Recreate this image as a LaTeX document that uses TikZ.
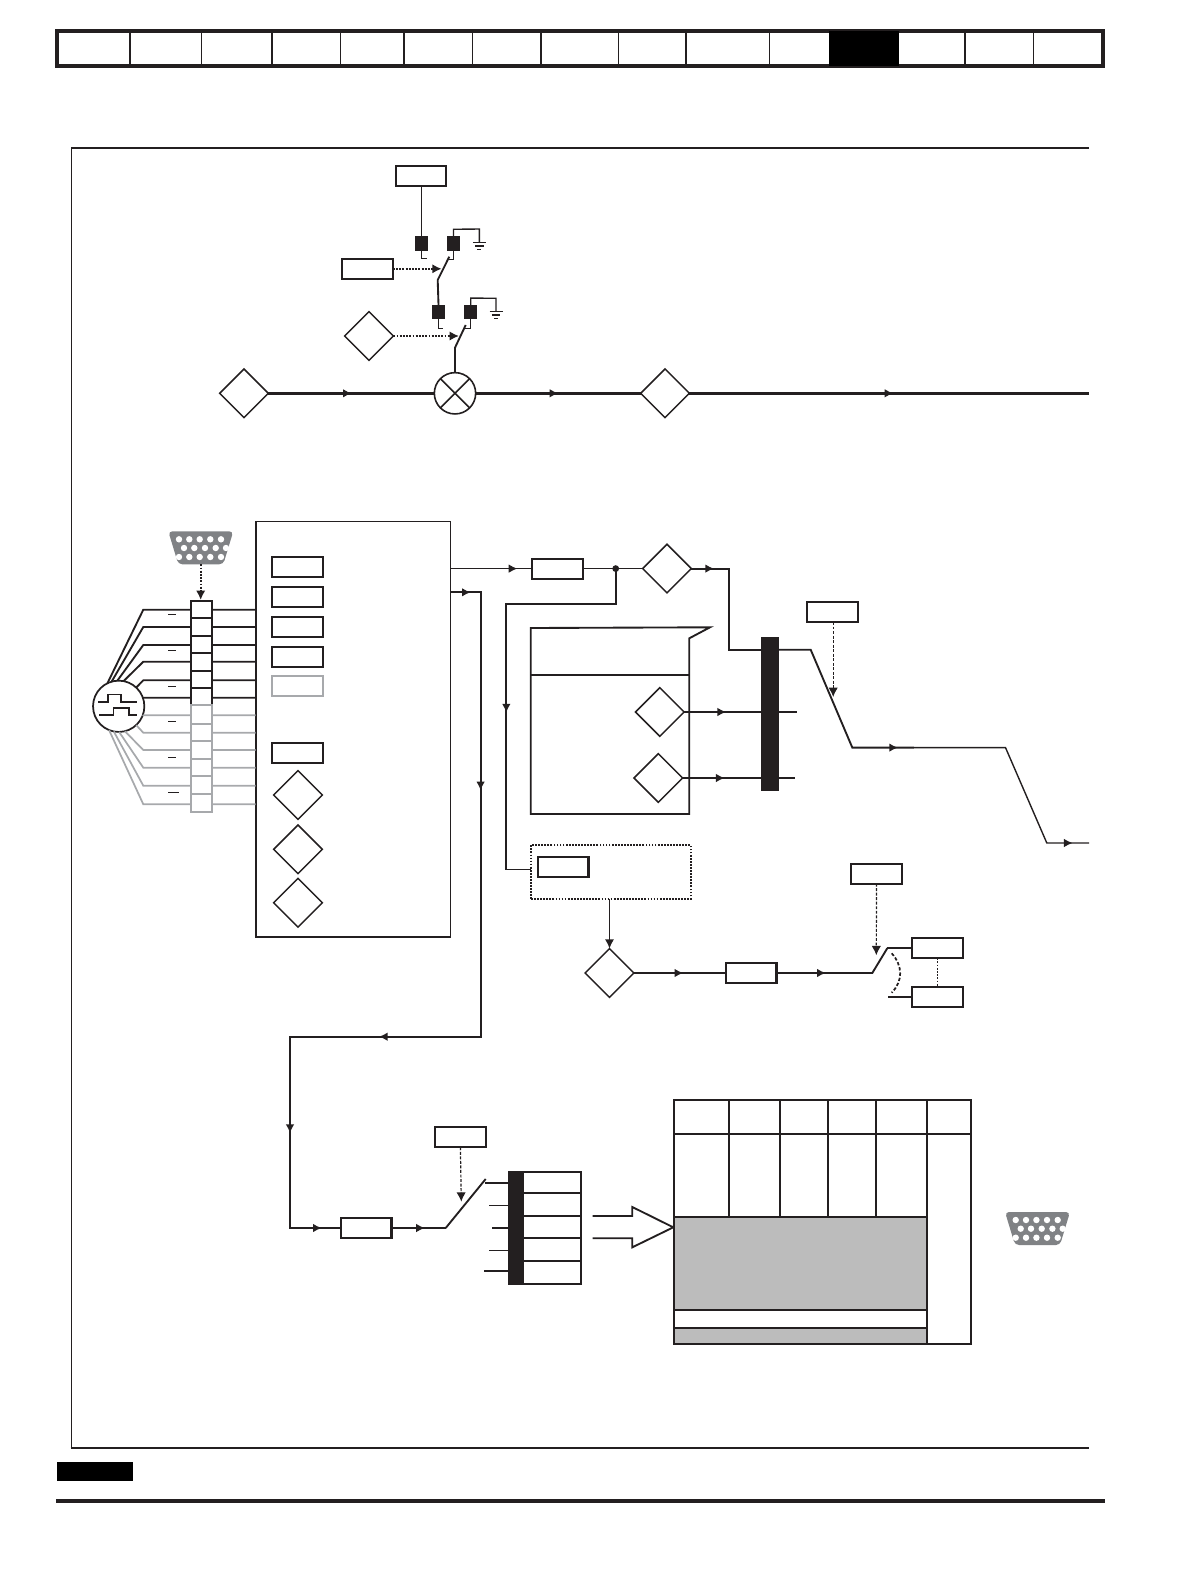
\documentclass[tikz,border=0pt]{standalone}
\usepackage{tikz}
\usetikzlibrary{arrows.meta, decorations.markings, shapes.geometric, positioning}
\definecolor{inkk}{HTML}{231F20}
\definecolor{palegray}{HTML}{A7A9AC}
\definecolor{connfill}{HTML}{808285}
\definecolor{panelgray}{HTML}{BCBCBC}
\tikzset{
  wire/.style={draw=inkk, line width=1.4pt, line join=miter},
  thinwire/.style={draw=inkk, line width=1.05pt},
  graywire/.style={draw=palegray, line width=1.3pt},
  parbox/.style={draw=inkk, fill=white, line width=1.6pt, rectangle, minimum width=38pt,
    minimum height=15pt, inner sep=0pt, outer sep=0pt},
  pardiam/.style={draw=inkk, fill=white, line width=1.1pt, diamond, minimum width=36.5pt,
    minimum height=36.5pt, inner sep=0pt, outer sep=0pt},
  fet/.style={draw=none, fill=inkk, rectangle, minimum width=9.6pt, minimum height=10.8pt,
    inner sep=0pt, outer sep=0pt},
  ctrl/.style={draw=inkk, line width=1.4pt, densely dotted, -{Latex[length=7pt,width=7pt]}},
  fine/.style={draw=inkk, line width=.9pt, dashed, dash pattern=on 2.2pt off 1.2pt, -{Latex[length=7pt,width=7pt]}},
  tipat/.style={postaction={decorate, decoration={markings,
    mark=at position #1 with {\arrow{Latex[length=6.5pt,width=6.5pt]}}}}},
  earth/.pic={
    \draw[thinwire] (-6.5,0) -- (6.5,0) (-4.2,3.3) -- (4.2,3.3) (-2,6.6) -- (2,6.6);
  },
  subd/.pic={
    \fill[connfill, rounded corners=3pt] (0,0) -- (65,0) -- (55,33) -- (10,33) -- cycle;
    \foreach \px in {10.7,21,31.4,42,52.7} {
      \fill[white] (\px,8) circle (3.2);
      \fill[white] (\px,25.7) circle (3.2);
    }
    \foreach \px in {15.7,26,36.7,47.4,57.7} {
      \fill[white] (\px,16.7) circle (3.2);
    }
  }
}
\begin{document}
\begin{tikzpicture}[x=.75pt,y=-.75pt,>={Latex[length=7pt,width=7pt]}]
  \useasboundingbox (0,0) rectangle (1190,1580);

  \draw[inkk, line width=3pt] (57.4,31) rectangle (1103,66.5);
  \fill[black] (829,31) rectangle (898.7,66.5);
  \foreach \xx in {130,201.5,272,340.5,404,472.5,541,618.6,686,769.7,965,1033.7} {
    \draw[inkk, line width=1pt] (\xx,31) -- (\xx,66.5);
  }
  \draw[inkk, line width=1.4pt] (1089,148) -- (71.5,148) -- (71.5,1448);
  \draw[inkk, line width=1.9pt] (70.5,1448) -- (1089,1448);
  \fill[black] (57.4,1462) rectangle (133,1481);
  \draw[inkk, line width=2.4pt] (56.4,1501) -- (1105,1501);

  \node[parbox] (refa) at (421,176) {};
  \node[fet] (fa) at (421.5,243.5) {};
  \node[fet] (fb) at (453.5,243.5) {};
  \node[parbox] (selA) at (367.5,268.8) {};
  \node[fet] (fc) at (438.5,312) {};
  \node[fet] (fd) at (470.7,312) {};
  \node[pardiam] (selB) at (369,336) {};
  \node[pardiam] (dIn) at (244,393.3) {};
  \node[draw=inkk, fill=white, circle, line width=1.2pt, minimum size=31pt, inner sep=0pt, outer sep=0pt] (mix) at (455,393.3) {};
  \node[pardiam] (dOut) at (665,393.3) {};
  \draw[inkk, line width=1.2pt] (mix.45) -- (mix.225) (mix.135) -- (mix.315);

  \draw[wire] (refa.south -| fa.north) -- (fa.north);
  \draw[thinwire] (fa.south) -- ++(0,8) -- ++(5,0);
  \draw[thinwire] (fb.south) -- ++(0,8.7) -- ++(-4.5,0);
  \draw[wire] (449.3,256.7) -- (437.7,280) -- (fc.north);
  \draw[thinwire] (fb.north) -- ++(0,-7) -- (479.3,229) -- (479.3,242.7);
  \pic at (479.3,242.7) {earth};
  \draw[thinwire] (fc.south) -- ++(0,9) -- ++(4.4,0);
  \draw[thinwire] (fd.south) -- ++(0,9) -- ++(-5.7,0);
  \draw[wire] (465.7,325) -- (455,347.7) -- (mix.north);
  \draw[thinwire] (fd.north) -- ++(0,-6.7) -- (496,298.3) -- (496,311.7);
  \pic at (496,311.7) {earth};
  \draw[ctrl] (selA.east) -- (441.7,268.8);
  \draw[ctrl] (selB.east) -- (459,336);
  \draw[wire, line width=2pt, tipat=62.5pt] (dIn.east) -- (mix.west);
  \draw[wire, line width=2pt, tipat=62pt] (mix.east) -- (dOut.west);
  \coordinate (mainEnd) at (1089,393.3);
  \draw[wire, line width=2pt, tipat=153pt] (dOut.east) -- (mainEnd);

  \node[draw=inkk, fill=white, line width=1.2pt, rectangle, minimum width=146.2pt, minimum height=311.8pt,
    inner sep=0pt, outer sep=0pt] (bigbox) at (353.2,729.2) {};
  \node[draw=inkk, fill=white, circle, line width=1.3pt, minimum size=38.5pt, inner sep=0pt, outer sep=0pt] (pulse) at (118.7,706.3) {};
  \foreach \ang/\yy in {116/609.7,106/627,93/645,79/661.7,47.5/680.3} {
    \draw[wire] (pulse.\ang) -- (143.3,\yy) -- (bigbox.west |- 0,\yy);
  }
  \draw[wire] (pulse.19) -- (143.3,697.7) -- (bigbox.west |- 0,697.7);
  \foreach \ang/\yy in {-19/715.3,-47.5/732.7,-76/750,-89/767.7,-101/785.7,-112/804.3} {
    \draw[graywire] (pulse.\ang) -- (143.3,\yy) -- (bigbox.west |- 0,\yy);
  }
  \foreach \ya/\yb in {600.7/618,618/636,636/653,653/671,671/688.3,688.3/705.3} {
    \draw[inkk, fill=white, line width=1.4pt] (190.7,\ya) rectangle (211.7,\yb);
  }
  \foreach \ya/\yb in {705.3/724,724/741,741/759,759/776,776/794,794/812} {
    \draw[palegray, fill=white, line width=1.4pt] (190.7,\ya) rectangle (211.7,\yb);
  }
  \foreach \yy in {614.3,650.3,686.3,721.3,757.3} {
    \draw[inkk, line width=.7pt] (168,\yy) -- (176,\yy);
  }
  \draw[inkk, line width=.7pt] (168,792.3) -- (179,792.3);
  \draw[inkk, line width=1.2pt] (98.3,702) -- (107.7,702) -- (107.7,694.3) -- (120.7,694.3) -- (120.7,702) -- (136.7,702);
  \draw[inkk, line width=1.2pt] (99,714.7) -- (113.3,714.7) -- (113.3,708) -- (129,708) -- (129,714.7) -- (137.3,714.7);

  \pic at (168.3,531.3) {subd};
  \coordinate (connA) at (200.7,564.3);
  \coordinate (stackTop) at (200.7,600);
  \draw[ctrl] (connA) -- (stackTop);

  \foreach \yy in {566.9,597,627,657} {
    \node[parbox] at (297.5,\yy) {};
  }
  \node[parbox, draw=palegray] (pB) at (297.5,686) {};
  \node[parbox] (pC) at (297.5,753) {};
  \node[pardiam] (pD) at (298,795) {};
  \node[pardiam] (pE) at (298,849.3) {};
  \node[pardiam] (pF) at (298,902.7) {};

  \node[parbox] (rampA) at (557.5,568.6) {};
  \coordinate (tap) at (615.7,568.6);
  \node[pardiam] (dCmp) at (667,568.6) {};
  \fill[inkk] (tap) circle (3.4);
  \draw[thinwire, tipat=50pt] (bigbox.east |- 0,568.6) -- (rampA.west);
  \draw[thinwire] (rampA.east) -- (tap) -- (dCmp.west);
  \coordinate (barTop) at (761,649.7);
  \draw[wire, tipat=17pt] (dCmp.east) -- (729,568.6) -- (729,649.7) -- (barTop);

  \draw[wire] (530.7,628) -- (710,627.3) -- (689.3,638.3) -- (689.3,814) -- (530.7,814) -- cycle;
  \draw[wire] (530.7,675) -- (689.3,675);
  \node[pardiam] (dLimA) at (659.8,712) {};
  \node[pardiam] (dLimB) at (658.3,778) {};
  \coordinate (stubA) at (796.7,712);
  \coordinate (stubB) at (795,778);
  \draw[wire, tipat=31.5pt] (dLimA.east) -- (stubA);
  \draw[wire, tipat=31.5pt] (dLimB.east) -- (stubB);
  \node[fill=inkk, rectangle, minimum width=13.3pt, minimum height=115.3pt, inner sep=0pt, outer sep=0pt] (bar) at (769.85,713.85) {};

  \node[parbox] (refB) at (832.7,612) {};
  \coordinate (sw1mid) at (833.2,697);
  \draw[fine] (refB.south -| sw1mid) -- (sw1mid);
  \coordinate (sw1end) at (913.8,747.6);
  \draw[wire, tipat=138pt] (778.7,649.7) -- (810.7,649.7) -- (852.3,747.6) -- (sw1end);
  \coordinate (farEnd) at (1089,843);
  \draw[thinwire, tipat=166pt] (sw1end) -- (1005.5,747.6) -- (1046.8,843) -- (farEnd);

  \node[draw=inkk, fill=white, densely dotted, line width=1.3pt, rectangle, minimum width=120pt, minimum height=40.4pt,
    inner sep=0pt, outer sep=0pt] (dotbox) at (611,872) {};
  \node[parbox] (pG) at (563.2,867) {};
  \draw[wire, tipat=190pt] (tap) -- (615.7,603.7) -- (506.3,603.7) -- (506.3,869.5);
  \draw[thinwire] (506.3,869.5) -- (dotbox.west |- 0,869.5);
  \node[pardiam] (dSel) at (609.5,973) {};
  \draw[wire, ->] (dotbox.south -| dSel.north) -- (dSel.north);
  \node[parbox] (rampB) at (751.1,973) {};
  \draw[thinwire, tipat=37pt] (dSel.east) -- (rampB.west);
  \coordinate (sw2end) at (887.3,948.2);
  \draw[wire, tipat=37pt] (rampB.east) -- (872.3,973) -- (sw2end);
  \node[parbox] (outA) at (937.5,948.2) {};
  \node[parbox] (outB) at (937.5,997.2) {};
  \node[parbox] (refC) at (876.5,873.6) {};
  \draw[wire] (sw2end) -- (outA.west);
  \draw[wire] (888.3,997.2) -- (outB.west);
  \draw[inkk, line width=1.4pt, densely dotted] (outA.south) -- (outB.north);
  \draw[fine] (refC.south) -- (876.3,955.3);
  \draw[inkk, line width=1.3pt, dashed, dash pattern=on 2.5pt off 1.5pt] (891.7,953.3) .. controls (903,966) and (903,981) .. (891.7,992.7);

  \draw[wire, tipat=15pt, tipat=171pt, tipat=432pt, tipat=571pt, tipat=666pt] (bigbox.east |- 0,592.3) -- (480.6,592.3) -- (480.6,1036.7) -- (290,1036.7) -- (290,1228) -- (341.5,1228);
  \node[parbox] (rampC) at (366.2,1228) {};
  \coordinate (sw3start) at (445.7,1228);
  \draw[wire, tipat=25pt] (rampC.east) -- (sw3start);
  \coordinate (sw3end) at (485.7,1179);
  \draw[wire] (sw3start) -- (sw3end);
  \node[parbox] (refD) at (460.4,1137.3) {};
  \draw[fine] (refD.south) -- (461.3,1201.7);
  \node[draw=inkk, fill=white, line width=1.4pt, rectangle, minimum width=53.4pt, minimum height=84.2pt, inner sep=0pt, outer sep=0pt] (bank) at (545,1227.85) {};
  \fill[inkk] (bank.north west) rectangle (523.7,1284);
  \foreach \yy in {1192.7,1216,1238.3,1261} {
    \draw[wire] (523.7,\yy) -- (bank.east |- 0,\yy);
  }
  \draw[wire] (485,1182.7) -- (bank.west |- 0,1182.7);
  \draw[thinwire] (489,1205.7) -- (bank.west |- 0,1205.7);
  \draw[wire] (492,1227.7) -- (bank.west |- 0,1227.7);
  \draw[thinwire] (489,1250.3) -- (bank.west |- 0,1250.3);
  \draw[thinwire] (484,1271) -- (bank.west |- 0,1271);
  \draw[wire] (592.7,1216) -- (632.3,1216) -- (632.3,1207) -- (673.3,1227.3) -- (632.3,1247.3) -- (632.3,1238.3) -- (592.7,1238.3);

  \fill[panelgray] (673.7,1217) rectangle (927,1309.7);
  \fill[panelgray] (673.7,1328) rectangle (927,1344.3);
  \draw[inkk, line width=1.5pt] (673.7,1099.7) rectangle (971.2,1344.3);
  \draw[inkk, line width=1.5pt] (673.7,1133.7) -- (971.2,1133.7);
  \draw[inkk, line width=1.5pt] (673.7,1217) -- (927,1217) (673.7,1309.7) -- (927,1309.7) (673.7,1328) -- (927,1328);
  \draw[inkk, line width=1.5pt] (927,1099.7) -- (927,1344.3);
  \foreach \xx in {729.3,780,828,876} {
    \draw[inkk, line width=1.3pt] (\xx,1099.7) -- (\xx,1217);
  }
  \pic at (1005,1212) {subd};
\end{tikzpicture}
\end{document}
